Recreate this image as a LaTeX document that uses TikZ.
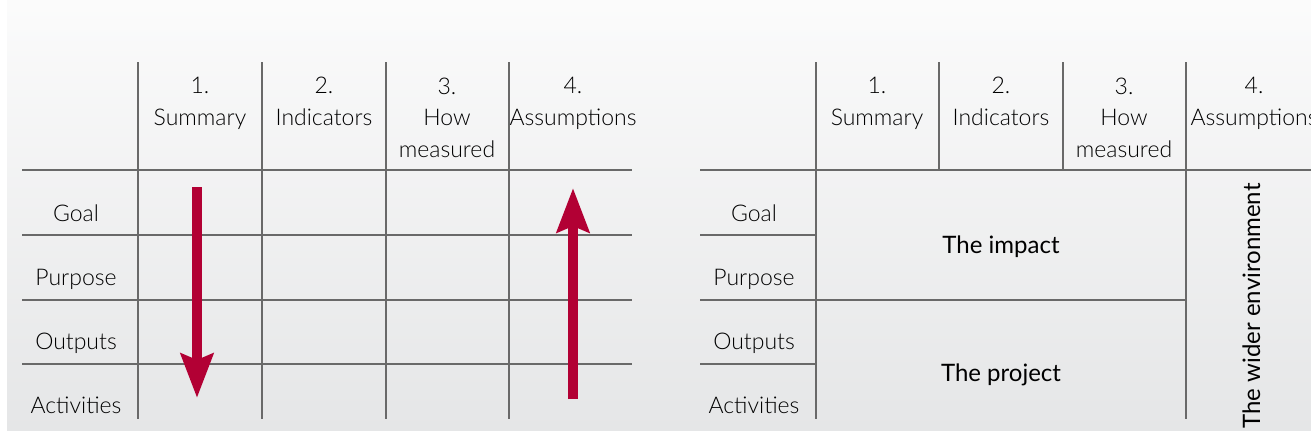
\documentclass[tikz,border=0pt]{standalone}
\usepackage{fontspec}
\setmainfont{Lato}[UprightFont={* Light}]
\newfontfamily\boldlabel{Lato}
\usetikzlibrary{arrows.meta,positioning}
\definecolor{framered}{RGB}{178,0,52}
\definecolor{gridgray}{RGB}{105,105,105}
\definecolor{panelgray}{RGB}{229,230,231}
\tikzset{
    every node/.style={font=\fontsize{11.5}{15.75}\selectfont, inner sep=0pt},
    rowlabel/.style={anchor=base},
    headcell/.style={anchor=base, align=center},
    bigtext/.style={anchor=base, font=\boldlabel\fontsize{12}{14}\selectfont},
    gridline/.style={draw=gridgray, line width=0.65pt},
    arrow/.style={-{Stealth[length=22pt,width=16pt,inset=3pt]}, line width=5pt, draw=framered},
}

\begin{document}
\begin{tikzpicture}[x=0.5pt,y=-0.5pt]
  \useasboundingbox (0,0) rectangle (1311,439);
  % background panel
  \shade[top color=panelgray!15, bottom color=panelgray] (7,0) rectangle (1311,430);

  % left frame: the grid
  \draw[gridline] (138,62) -- (138,419);
  \draw[gridline] (262,62) -- (262,419);
  \draw[gridline] (386,62) -- (386,419);
  \draw[gridline] (509,62) -- (509,419);
  \draw[gridline] (22,170) -- (632,170);
  \draw[gridline] (22,235) -- (632,235);
  \draw[gridline] (22,300) -- (632,300);
  \draw[gridline] (22,364) -- (632,364);

  % base = baseline of the last line
  \node[headcell] (lsum) at (200,125) {1.\\Summary};
  \node[headcell] (lind) at (324,125) {2.\\Indicators};
  \node[headcell] (lhow) at (447,157) {3.\\How\\measured};
  \node[headcell] (lass) at (573,125) {4.\\Assumptions};

  \node[rowlabel] (lgoal) at (76,221) {Goal};
  \node[rowlabel] (lpurp) at (76,285) {Purpose};
  \node[rowlabel] (lout)  at (76,349) {Outputs};
  \node[rowlabel] (lact)  at (76,413) {Activities};

  % top-down and bottom-up logic
  \coordinate (downstart) at (197,187);
  \coordinate (downend)   at (197,398);
  \coordinate (upstart)   at (573,399);
  \coordinate (upend)     at (573,188);
    \draw[arrow] (downstart) -- (downend);
    \draw[arrow] (upstart) -- (upend);

  % right frame: the grid
  \draw[gridline] (816,62) -- (816,419);
  \draw[gridline] (939,62) -- (939,170);
  \draw[gridline] (1063,62) -- (1063,170);
  \draw[gridline] (1186,62) -- (1186,419);
  \draw[gridline] (700,170) -- (1311,170);
  \draw[gridline] (700,235) -- (816,235);
  \draw[gridline] (700,300) -- (1186,300);
  \draw[gridline] (700,364) -- (816,364);

  \node[headcell] (rsum) at (877,125) {1.\\Summary};
  \node[headcell] (rind) at (1001,125) {2.\\Indicators};
  \node[headcell] (rhow) at (1124,157) {3.\\How\\measured};
  \node[headcell] (rass) at (1254,125) {4.\\Assumptions};

  \node[rowlabel] (rgoal) at (754,221) {Goal};
  \node[rowlabel] (rpurp) at (754,285) {Purpose};
  \node[rowlabel] (rout)  at (754,349) {Outputs};
  \node[rowlabel] (ract)  at (754,413) {Activities};

  \node[bigtext] (impact)  at (1001,253) {The impact};
  \node[bigtext] (project) at (1001,381) {The project};
  \node[bigtext, rotate=90] (wider) at (1260,306) {The wider environment};
\end{tikzpicture}
\end{document}
